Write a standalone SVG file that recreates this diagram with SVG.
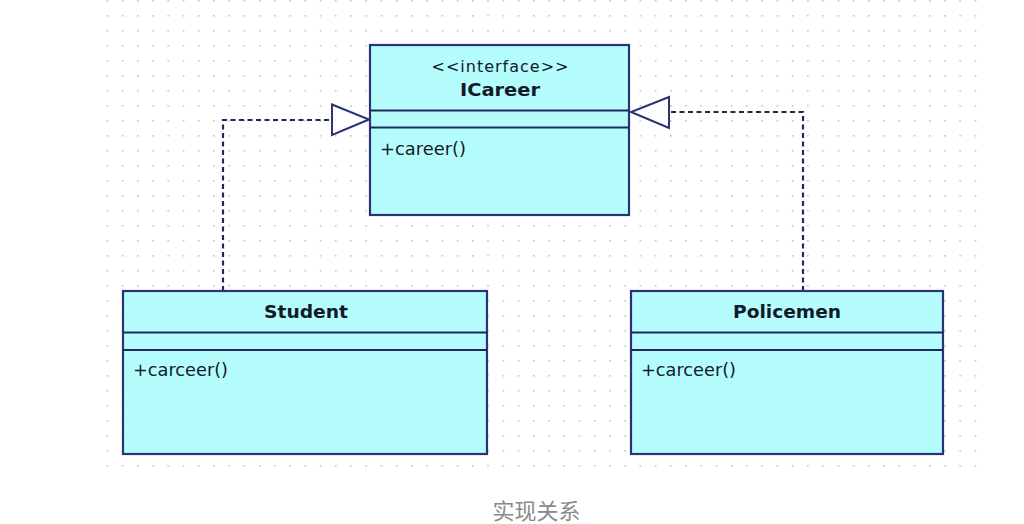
<svg xmlns="http://www.w3.org/2000/svg" width="1024" height="524" viewBox="0 0 1024 524">
  <defs>
    <pattern id="grid" x="106.5" y="0" width="15.23" height="15" patternUnits="userSpaceOnUse">
      <rect x="0" y="0" width="1.6" height="1.6" fill="#c4c4c4"/>
    </pattern>
  </defs>
  <style>
    .box { fill: #b5fdfd; stroke: #2a3278; stroke-width: 2.2; }
    .div { stroke: #1d2a5c; stroke-width: 2; }
    .conn { fill: none; stroke: #1f2a55; stroke-width: 2.2; stroke-dasharray: 5 3.5; }
    .head { fill: #ffffff; stroke: #2a3278; stroke-width: 2; stroke-linejoin: miter; }
    .t { font-family: "DejaVu Sans", Verdana, sans-serif; fill: #111a28; }
    .title { font-weight: bold; font-size: 18px; text-anchor: middle; }
    .stereo { font-size: 16px; text-anchor: middle; }
    .op { font-size: 17px; }
    .caption { font-family: "Noto Sans CJK SC", sans-serif; font-size: 22px; fill: #8a8a8a; text-anchor: middle; }
  </style>
  <rect width="1024" height="524" fill="#ffffff"/>
  <rect x="106" y="0" width="871" height="467" fill="url(#grid)"/>

  <g id="connectors">
    <polyline class="conn" points="223,291 223,120 332,120"/>
    <polygon class="head" points="332,104.5 369,119.5 332,135"/>
    <polyline class="conn" points="803,291 803,112 669,112"/>
    <polygon class="head" points="669,97 631,112 669,128"/>
  </g>

  <g id="ICareer">
    <rect class="box" x="370" y="45" width="259" height="170"/>
    <line class="div" x1="370" y1="110.5" x2="629" y2="110.5"/>
    <line class="div" x1="370" y1="127.5" x2="629" y2="127.5"/>
    <text class="t stereo" x="500" y="72" textLength="137" lengthAdjust="spacing">&lt;&lt;interface&gt;&gt;</text>
    <text class="t title" x="500" y="96" textLength="80" lengthAdjust="spacingAndGlyphs">ICareer</text>
    <text class="t op" x="380" y="155" textLength="86" lengthAdjust="spacingAndGlyphs">+career()</text>
  </g>

  <g id="Student">
    <rect class="box" x="123" y="291" width="364" height="163"/>
    <line class="div" x1="123" y1="332.5" x2="487" y2="332.5"/>
    <line class="div" x1="123" y1="350" x2="487" y2="350"/>
    <text class="t title" x="306" y="318" textLength="84" lengthAdjust="spacingAndGlyphs">Student</text>
    <text class="t op" x="133" y="376" textLength="95" lengthAdjust="spacingAndGlyphs">+carceer()</text>
  </g>

  <g id="Policemen">
    <rect class="box" x="631" y="291" width="312" height="163"/>
    <line class="div" x1="631" y1="332.5" x2="943" y2="332.5"/>
    <line class="div" x1="631" y1="350" x2="943" y2="350"/>
    <text class="t title" x="787" y="318" textLength="108" lengthAdjust="spacingAndGlyphs">Policemen</text>
    <text class="t op" x="641" y="376" textLength="95" lengthAdjust="spacingAndGlyphs">+carceer()</text>
  </g>

  <text class="caption" x="536.5" y="519">实现关系</text>
</svg>
